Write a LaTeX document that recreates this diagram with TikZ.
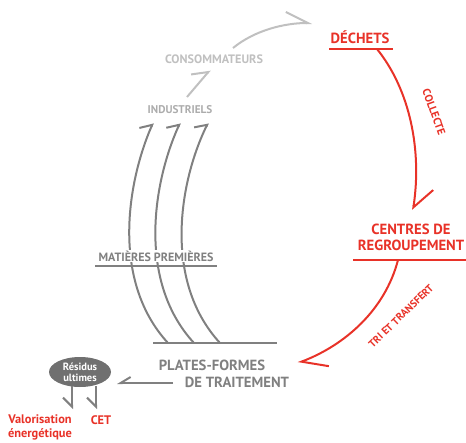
\documentclass[tikz,border=0pt]{standalone}
\usepackage{fontspec}
\setmainfont{PT Sans}
\usetikzlibrary{arrows.meta,shapes.geometric}

\definecolor{rouge}{RGB}{232,50,40}
\definecolor{grisfonce}{RGB}{128,128,128}
\definecolor{grisclair}{RGB}{192,192,192}
\definecolor{grismoyen}{RGB}{172,172,172}
\definecolor{grisbulle}{RGB}{112,112,112}

\tikzset{
  grand/.style={font=\bfseries\fontsize{14.7}{16}\selectfont, align=center, inner sep=1pt},
  petit/.style={font=\bfseries\fontsize{12}{14}\selectfont, align=center, inner sep=1pt},
  mini/.style={font=\bfseries\fontsize{10.5}{12}\selectfont, inner sep=0pt},
  trait/.style={line width=2pt},
  harp/.style 2 args={-{Straight Barb[harpoon,length=#1,width=#2]}},
  harpswap/.style 2 args={-{Straight Barb[harpoon,swap,length=#1,width=#2]}}
}

\begin{document}
\begin{tikzpicture}[x=1pt,y=-1pt]
  \useasboundingbox (0,0) rectangle (466,442);

  % les textes
  \node[grand,text=rouge] (dechets) at (360,37) {DÉCHETS};
  \node[petit,text=grisclair,font=\bfseries\fontsize{12.2}{14}\selectfont] (consommateurs) at (214,59) {CONSOMMATEURS};
  \node[petit,text=grismoyen,font=\bfseries\fontsize{11.2}{13}\selectfont] (industriels) at (180,110) {INDUSTRIELS};
  \node[grand,text=rouge] (centres) at (411,237) {CENTRES DE\\REGROUPEMENT};
  \node[grand,text=grisfonce] (plates) at (212,365) {PLATES-FORMES};
  \node[grand,text=grisfonce] (traitement) at (237,382) {DE TRAITEMENT};
  \node[mini,text=rouge,rotate=-70,font=\bfseries\fontsize{11}{12}\selectfont] (collecte) at (434,112) {COLLECTE};
  \node[mini,text=rouge,rotate=44] (tri) at (401,316) {TRI ET TRANSFERT};

  % points des traits
  \coordinate (D1) at (329,49);
  \coordinate (D2) at (393,49);
  \coordinate (R1) at (353,260);
  \coordinate (R2) at (466,260);
  \coordinate (P1) at (153,343);
  \coordinate (P2) at (277,343);
  \coordinate (M1) at (95,266);
  \coordinate (M2) at (217,266);

  % les trois flux de matière
  \foreach \dx/\dt in {0/0,26/27,52/55}
    \draw[trait,grisfonce,harp={8pt}{21pt}] ({168+\dx},343) .. controls ({110+\dx},280) and ({128+\dx},180) .. ({153+\dt},123);

  \node[petit,text=grisfonce,fill=white] (matieres) at (156,256) {MATIÈRES PREMIÈRES};
  \draw[trait,grisfonce] (M1) -- (M2);
  \draw[trait,grisfonce] (P1) -- (P2);

  % vers les consommateurs
  \draw[trait,grisclair,harp={13pt}{23pt}] (187,97) -- (210,70);
  \draw[trait,grisclair,harp={22pt}{22pt}] (233,48) .. controls (255,30) and (285,23) .. (312,23);

  % boucle rouge
  \draw[trait,rouge] (D1) -- (D2);
  \draw[trait,rouge] (R1) -- (R2);
  \draw[trait,rouge,harp={20pt}{34pt}] (377,49) .. controls (410,90) and (422,150) .. (413,210);
  \draw[trait,rouge,harp={24pt}{28pt}] (398,260) .. controls (385,310) and (345,345) .. (298,363);

  % résidus
  \node[ellipse,fill=grisbulle,text=white,minimum width=62pt,minimum height=30pt,inner sep=0pt,
        font=\bfseries\fontsize{10.5}{11}\selectfont,align=center] (residus) at (80,372) {Résidus\\ultimes};
  \draw[trait,grisfonce,harpswap={10pt}{12pt}] (173,383) -- (117,383);
  \node[petit,text=rouge,font=\bfseries\fontsize{12.4}{14}\selectfont] (valorisation) at (40,427) {Valorisation\\énergétique};
  \node[petit,text=rouge,font=\bfseries\fontsize{12.4}{14}\selectfont] (cet) at (101,420) {CET};
  \draw[trait,grisfonce,harpswap={9pt}{18pt}] (72,386) -- (72,409);
  \draw[trait,grisfonce,harpswap={9pt}{18pt}] (96,386) -- (96,409);
\end{tikzpicture}
\end{document}
